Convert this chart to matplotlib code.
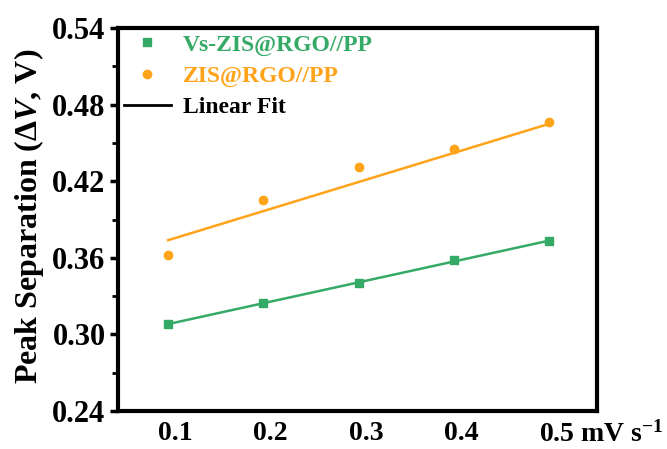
import matplotlib
matplotlib.use("Agg")
import matplotlib.pyplot as plt
import matplotlib.transforms as mtransforms
from matplotlib.lines import Line2D
import numpy as np

plt.rcParams['font.family'] = ['Liberation Serif', 'DejaVu Serif']
plt.rcParams['font.weight'] = 'bold'
plt.rcParams['mathtext.fontset'] = 'custom'
plt.rcParams['mathtext.rm'] = 'Liberation Serif:bold'
plt.rcParams['mathtext.bf'] = 'Liberation Serif:bold'
plt.rcParams['mathtext.it'] = 'Liberation Serif:bold:italic'

# Data
scan_rate = [0.1, 0.2, 0.3, 0.4, 0.5]
vs_zis = [0.3081, 0.3243, 0.3400, 0.3583, 0.3732]
zis = [0.3622, 0.4053, 0.4314, 0.4452, 0.4664]
# Linear-fit line values at the first and last scan rate
fit_x = [0.1, 0.5]
vs_zis_fit = [0.3081, 0.3735]
zis_fit = [0.3738, 0.4650]
x_ticks = [0.1, 0.2, 0.3, 0.4, 0.5]
x_ticklabels = ['0.1', '0.2', '0.3', '0.4', '0.5 mV s$^{-1}$']
y_ticks = [0.24, 0.30, 0.36, 0.42, 0.48, 0.54]
y_ticklabels = ['0.24', '0.30', '0.36', '0.42', '0.48', '0.54']
labels = ['Vs-ZIS@RGO//PP', 'ZIS@RGO//PP', 'Linear Fit']

green = '#35AA66'
orange = '#FFA31A'

fig = plt.figure(figsize=(6.67, 4.49), dpi=100)
ax = fig.add_axes([0.177, 0.0846, 0.718, 0.853])

for y, yf, c, m, ms in [(vs_zis, vs_zis_fit, green, 's', 5.5), (zis, zis_fit, orange, 'o', 6)]:
    ax.plot(fit_x, yf, color=c, lw=1.8, zorder=2)
    ax.plot(scan_rate, y, linestyle='none', marker=m, color=c, ms=ms, zorder=3)

ax.set_xlim(0.0475, 0.55)
ax.set_ylim(0.24, 0.54)
ax.set_xticks(x_ticks)
ax.set_xticklabels(x_ticklabels)
ax.set_yticks(y_ticks)
ax.set_yticklabels(y_ticklabels)
ax.set_yticks([0.27, 0.33, 0.39, 0.45, 0.51], minor=True)

for s in ax.spines.values():
    s.set_linewidth(3)

ax.tick_params(axis='x', which='both', length=0, pad=7, labelsize=20)
ax.tick_params(axis='y', which='major', direction='out', length=6, width=2.5, pad=3, labelsize=22)
ax.tick_params(axis='y', which='minor', direction='out', length=4, width=2)
ax.tick_params(top=False, right=False)

for lbl in ax.get_xticklabels():
    lbl.set_horizontalalignment('left')
    lbl.set_transform(lbl.get_transform() + mtransforms.ScaledTranslation(-10/100, 0, fig.dpi_scale_trans))

ax.set_ylabel('Peak Separation ($\\mathit{\\Delta V}$, V)', fontsize=23, fontweight='bold')
ax.yaxis.label.set_va('center')
ax.yaxis.set_label_coords(-0.186, 0.509)

handles = [
    Line2D([], [], linestyle='none', marker='s', color=green, ms=5.5),
    Line2D([], [], linestyle='none', marker='o', color=orange, ms=6),
    Line2D([], [], color='black', lw=2),
]
leg = ax.legend(handles, labels, loc='upper left', bbox_to_anchor=(0.012, 0.984),
                frameon=False, handlelength=2.0, handletextpad=0.5,
                labelspacing=0.4, borderpad=0, borderaxespad=0,
                prop={'weight': 'bold', 'size': 17})
for t, c in zip(leg.get_texts(), [green, orange, 'black']):
    t.set_color(c)

fig.savefig('out.png', dpi=100)
